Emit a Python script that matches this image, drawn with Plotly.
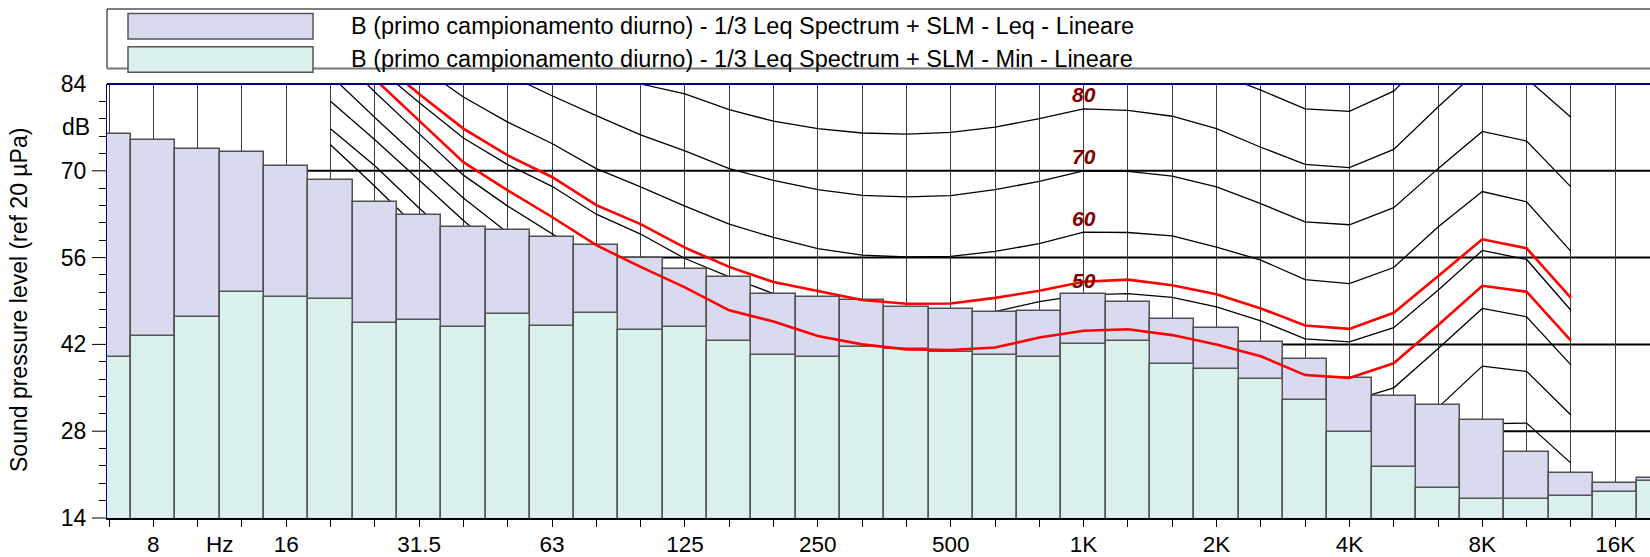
import plotly.graph_objects as go

# ---------------- data ----------------
bands = ["6.3", "8", "10", "12.5", "16", "20", "25", "31.5", "40", "50", "63", "80",
         "100", "125", "160", "200", "250", "315", "400", "500", "630", "800", "1K",
         "1.25K", "1.6K", "2K", "2.5K", "3.15K", "4K", "5K", "6.3K", "8K", "10K",
         "12.5K", "16K", "20K"]

leq_db = [75.9, 74.95, 73.5, 73.0, 70.8, 68.5, 65.0, 62.85, 60.9, 60.5, 59.3, 58.1,
          56.0, 54.1, 52.9, 50.1, 49.65, 49.1, 48.0, 47.7, 47.15, 47.4, 50.1,
          48.9, 46.15, 44.7, 42.4, 39.6, 36.6, 33.75, 32.25, 29.8, 24.65,
          21.3, 19.65, 20.5]

min_db = [39.95, 43.3, 46.35, 50.45, 49.6, 49.35, 45.4, 46.0, 44.85, 46.9, 45.0, 47.0,
          44.4, 44.75, 42.5, 40.3, 40.0, 41.6, 41.2, 40.75, 40.3, 40.0, 42.0,
          42.5, 38.85, 38.0, 36.45, 33.0, 27.9, 22.2, 18.9, 17.0, 17.05,
          17.6, 18.2, 19.9]

tick_labels = {"8": "8", "16": "16", "31.5": "31.5", "63": "63", "125": "125",
               "250": "250", "500": "500", "1K": "1K", "2K": "2K", "4K": "4K",
               "8K": "8K", "16K": "16K"}

# equal-loudness contours, 20 Hz .. 12.5 kHz
contour_bands = bands[5:34]

phon_0 = [74.2, 67.5, 60.5, 53.5, 47.0, 41.0, 35.5, 30.5, 26.0, 21.5, 17.5, 14.0, 11.0,
          8.0, 6.0, 4.5, 3.5, 3.5, 3.5, 2.5, 1.0, -1.0, -3.5, -4.0, -2.0, 4.0, 11.0,
          12.0, 7.0]
phon_10 = [76.8, 70.8, 64.0, 57.5, 51.5, 46.0, 40.5, 35.5, 31.0, 26.5, 23.0, 20.0, 17.5,
           15.5, 14.0, 12.5, 11.0, 10.0, 10.0, 9.5, 8.5, 6.5, 4.0, 3.5, 6.0, 12.5, 19.5,
           21.0, 15.0]
phon_20 = [81.2, 75.0, 68.5, 62.0, 56.0, 50.5, 45.0, 40.5, 36.5, 32.5, 29.5, 26.5, 24.0,
           22.5, 21.5, 21.0, 20.5, 20.0, 20.0, 19.5, 18.5, 16.5, 14.5, 14.0, 16.0, 22.5,
           29.2, 29.3, 22.85]
phon_30 = [85.4, 78.6, 72.0, 65.6, 60.0, 55.3, 50.5, 46.5, 43.0, 39.8, 37.0, 34.6, 32.6,
           31.3, 30.7, 30.4, 30.0, 30.0, 30.0, 29.5, 28.2, 26.0, 23.5, 23.1, 25.4, 31.8,
           38.5, 37.65, 30.6]
phon_40 = [90.0, 82.7, 76.0, 69.3, 64.3, 59.8, 55.4, 51.8, 48.3, 44.9, 42.6, 40.6, 39.3,
           38.7, 38.6, 38.9, 39.4, 40.0, 40.2, 39.6, 38.2, 36.0, 33.3, 32.8, 35.0, 41.3,
           47.8, 46.45, 38.7]
phon_50 = [93.0, 87.0, 81.0, 75.3, 71.0, 67.5, 63.0, 59.8, 55.85, 52.9, 50.2, 48.7, 47.4,
           46.8, 46.8, 47.3, 48.9, 50.0, 50.2, 49.6, 48.05, 45.8, 42.9, 42.4, 44.7, 50.75,
           57.15, 55.7, 47.5]
phon_60 = [97.0, 92.0, 86.9, 81.9, 77.85, 74.4, 70.35, 67.4, 64.3, 61.4, 59.25, 57.45,
           56.4, 56.1, 56.2, 57.0, 58.25, 60.1, 60.05, 59.5, 57.7, 55.6, 52.45, 51.8,
           54.4, 60.95, 66.65, 65.0, 57.0]
phon_70 = [101.0, 97.0, 93.0, 89.0, 85.5, 82.1, 78.9, 75.8, 73.2, 70.35, 68.45, 66.95,
           66.05, 65.8, 66.0, 66.95, 68.3, 70.0, 69.9, 69.15, 67.4, 64.7, 61.75, 61.3,
           64.05, 70.35, 76.35, 74.8, 67.4]
phon_80 = [105.0, 102.0, 99.0, 96.0, 93.0, 89.5, 86.7, 84.0, 82.4, 79.85, 78.0, 76.8,
           76.1, 75.9, 76.2, 77.05, 78.4, 80.0, 79.75, 78.8, 76.8, 73.8, 71.05, 70.5,
           73.45, 80.3, 86.8, 84.9, 78.65]
phon_90 = [108.0, 106.0, 104.0, 102.0, 100.0, 97.5, 95.0, 92.5, 91.0, 89.2, 87.8, 86.8,
           86.2, 86.0, 86.2, 87.0, 88.3, 90.0, 89.8, 88.8, 85.8, 83.0, 80.0, 79.6,
           82.85, 89.9, 96.0, 95.0, 89.0]

# loudness contours of the two measured spectra
loud_leq = [94.0, 88.3, 82.4, 76.8, 72.5, 69.0, 64.45, 61.4, 57.6, 54.5, 52.05, 50.6,
            49.15, 48.55, 48.6, 49.5, 50.65, 52.1, 52.45, 51.55, 50.1, 47.8, 45.05,
            44.5, 47.1, 53.0, 58.95, 57.5, 49.5]
loud_min = [91.0, 84.8, 78.1, 71.4, 66.85, 62.55, 58.0, 54.5, 51.2, 47.5, 45.7, 43.35,
            42.0, 41.2, 41.1, 41.5, 43.1, 44.2, 44.45, 43.5, 42.0, 40.1, 37.05, 36.6,
            38.95, 45.1, 51.45, 50.5, 42.6]

phon_labels = [80, 70, 60, 50]

y_ticks = [14, 28, 42, 56, 70, 84]
y_minor = [16.8, 19.6, 22.4, 25.2, 30.8, 33.6, 36.4, 39.2, 44.8, 47.6, 50.4, 53.2,
           58.8, 61.6, 64.4, 67.2, 72.8, 75.6, 78.4, 81.2]
grid_levels = [28, 42, 56, 70]

legend_leq = "B (primo campionamento diurno) - 1/3 Leq Spectrum + SLM - Leq - Lineare"
legend_min = "B (primo campionamento diurno) - 1/3 Leq Spectrum + SLM - Min - Lineare"

# ---------------- layout geometry ----------------
W, H = 1650, 557
L, R, T, B = 107, 0, 84, 39
PW, PH = W - L - R, H - T - B
BAND_PX = 44.3
X0 = 1 - (153.3 - L) / BAND_PX
X1 = X0 + PW / BAND_PX

def pxx(p):
    return (p - L) / PW

def pyy(p):
    return (H - B - p) / PH

FONT = "Liberation Sans, Arial, sans-serif"
LAV = "#d9d9f0"
GRN = "#daf0ec"

xi = list(range(len(bands)))
cx = [bands.index(b) for b in contour_bands]

fig = go.Figure()

# black contours (behind bars)
for curve in [phon_0, phon_10, phon_20, phon_30, phon_40, phon_50, phon_60,
              phon_70, phon_80, phon_90]:
    fig.add_trace(go.Scatter(x=cx, y=curve, mode="lines",
                             line=dict(color="black", width=1.3),
                             hoverinfo="skip", showlegend=False,
                             xaxis="x", yaxis="y"))

# bars (overlay subplot so they cover the contours)
fig.add_trace(go.Bar(x=xi, y=leq_db, width=1.0, marker=dict(color=LAV,
                     line=dict(color="#505050", width=1.5)),
                     name="Leq", showlegend=False, xaxis="x2", yaxis="y2"))
fig.add_trace(go.Bar(x=xi, y=min_db, width=1.0, marker=dict(color=GRN,
                     line=dict(color="#555555", width=1.5)),
                     name="Min", showlegend=False, xaxis="x2", yaxis="y2"))

# red loudness contours on top
for curve in [loud_leq, loud_min]:
    fig.add_trace(go.Scatter(x=cx, y=curve, mode="lines",
                             line=dict(color="#ff0000", width=2.6),
                             hoverinfo="skip", showlegend=False,
                             xaxis="x2", yaxis="y2"))

tickvals = xi
ticktext = [tick_labels.get(b, "") for b in bands]

fig.update_layout(
    width=W, height=H,
    margin=dict(l=L, r=R, t=T, b=B, autoexpand=False),
    paper_bgcolor="white", plot_bgcolor="white",
    barmode="overlay", bargap=0,
    showlegend=False,
    font=dict(family=FONT, size=23, color="black"),
    xaxis=dict(range=[X0, X1], tickmode="array", tickvals=tickvals, ticktext=ticktext,
               ticks="outside", ticklen=7, tickcolor="black", tickwidth=1,
               showgrid=True, gridcolor="#3c3c3c", gridwidth=1,
               showline=True, linecolor="black", linewidth=1.5,
               zeroline=False, tickfont=dict(size=22.5), ticklabelstandoff=-2,
               automargin=False),
    yaxis=dict(range=[14, 84], tickmode="array", tickvals=y_ticks,
               ticks="outside", ticklen=15, tickcolor="rgba(0,0,0,0)",
               showgrid=False, zeroline=False,
               showline=True, linecolor="#000080", linewidth=1,
               tickfont=dict(size=23), automargin=False,
               minor=dict(tickmode="array", tickvals=y_minor, ticks="outside",
                          ticklen=7, tickcolor="black", tickwidth=1)),
    xaxis2=dict(range=[X0, X1], overlaying="x", visible=False, automargin=False),
    yaxis2=dict(range=[14, 84], overlaying="y", visible=False, automargin=False),
)

shapes = []
for v in grid_levels:
    shapes.append(dict(type="line", xref="x", yref="y", x0=X0, x1=X1, y0=v, y1=v,
                       line=dict(color="black", width=2), layer="below"))
# major y ticks (none at 84)
for v in y_ticks[:-1]:
    yp = (v - 14) / 70
    shapes.append(dict(type="line", xref="paper", yref="paper", x0=-15 / PW, x1=0,
                       y0=yp, y1=yp, line=dict(color="black", width=1)))
# top border
shapes.append(dict(type="line", xref="paper", yref="paper", x0=0, x1=1.01, y0=1, y1=1,
                   line=dict(color="#000080", width=2)))
# legend frame
shapes.append(dict(type="rect", xref="paper", yref="paper", x0=pxx(107), x1=pxx(1660),
                   y0=pyy(68.5), y1=pyy(9), line=dict(color="black", width=1),
                   fillcolor="white"))
shapes.append(dict(type="line", xref="paper", yref="paper", x0=pxx(107), x1=pxx(1660),
                   y0=pyy(68.5), y1=pyy(68.5), line=dict(color="#777777", width=2)))
shapes.append(dict(type="rect", xref="paper", yref="paper", x0=pxx(128), x1=pxx(313),
                   y0=pyy(39), y1=pyy(13.5), fillcolor=LAV,
                   line=dict(color="#555555", width=1.5)))
shapes.append(dict(type="rect", xref="paper", yref="paper", x0=pxx(128), x1=pxx(313),
                   y0=pyy(72.3), y1=pyy(46.7), fillcolor=GRN,
                   line=dict(color="#555555", width=1.5)))
fig.update_layout(shapes=shapes)

ann = []
ann.append(dict(text=legend_leq, xref="paper", yref="paper", x=pxx(349), y=pyy(26),
                xanchor="left", yanchor="middle", showarrow=False,
                font=dict(size=23.5)))
ann.append(dict(text=legend_min, xref="paper", yref="paper", x=pxx(349), y=pyy(59),
                xanchor="left", yanchor="middle", showarrow=False,
                font=dict(size=23.5)))
ann.append(dict(text="dB", xref="paper", yref="y", x=pxx(92), y=77,
                xanchor="right", yanchor="middle", showarrow=False, font=dict(size=23)))
ann.append(dict(text="Hz", xref="x", yref="paper", x=2.5, y=pyy(544),
                xanchor="center", yanchor="middle", showarrow=False,
                font=dict(size=22.5)))
ann.append(dict(text="Sound pressure level (ref 20 µPa)", xref="paper", yref="paper",
                x=pxx(19), y=pyy(300), textangle=-90, xanchor="center",
                yanchor="middle", showarrow=False, font=dict(size=23)))
k1 = bands.index("1K")
for p in phon_labels:
    ann.append(dict(text=str(p), xref="x", yref="y", x=k1, y=p + 2.3,
                    xanchor="center", yanchor="middle", showarrow=False,
                    font=dict(size=21, color="#800000", weight="bold", style="italic")))
fig.update_layout(annotations=ann)

fig.write_html("out.html",
               config={"displayModeBar": False},
               post_script="document.body.style.margin='0';"
                           "document.body.style.padding='0';"
                           "document.documentElement.style.overflow='hidden';"
                           "document.body.style.overflow='hidden';")
